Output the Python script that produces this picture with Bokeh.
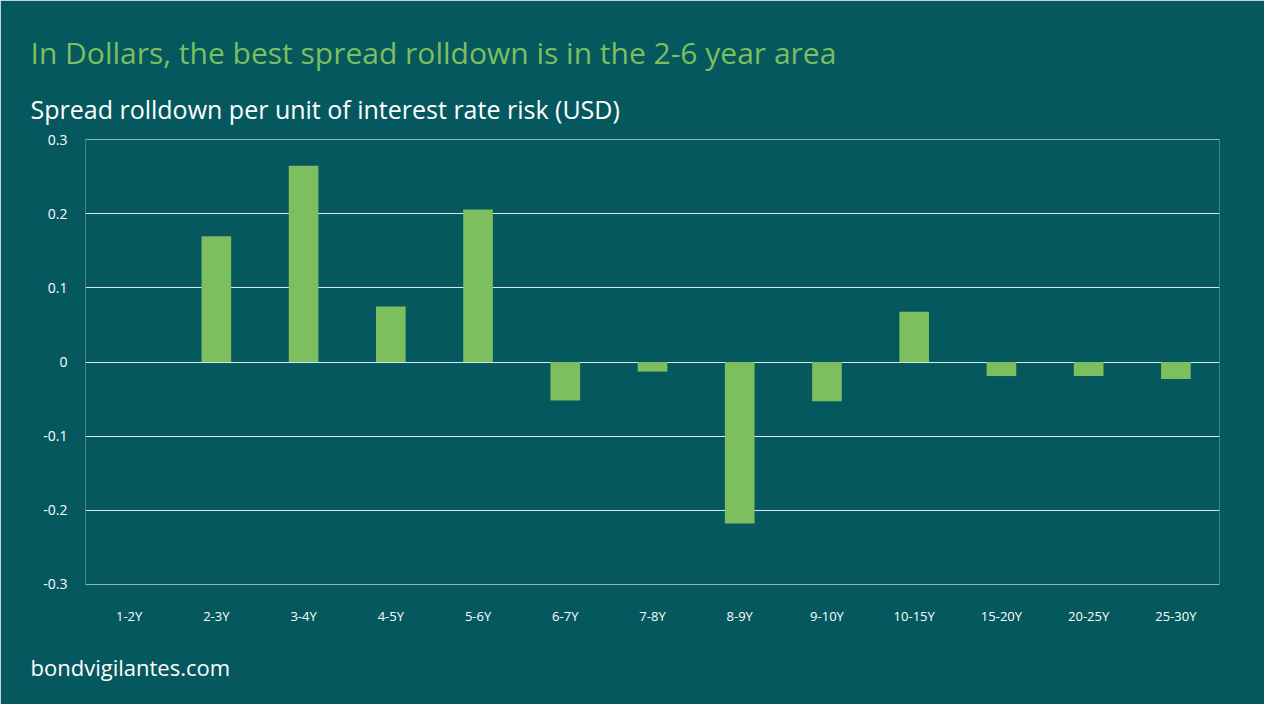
from bokeh.plotting import figure
from bokeh.models import FactorRange, FixedTicker, Title
from bokeh.embed import file_html
from bokeh.resources import INLINE

categories = ["1-2Y","2-3Y","3-4Y","4-5Y","5-6Y","6-7Y","7-8Y","8-9Y","9-10Y","10-15Y","15-20Y","20-25Y","25-30Y"]
values = [0.0, 0.170, 0.265, 0.075, 0.206, -0.052, -0.013, -0.218, -0.053, 0.068, -0.019, -0.019, -0.023]
yticks = [-0.3, -0.2, -0.1, 0.0, 0.1, 0.2, 0.3]
ylabels = ["-0.3", "-0.2", "-0.1", "0", "0.1", "0.2", "0.3"]

BG = "#04585E"
GREEN = "#7DBE5F"
FONT = "Open Sans"

p = figure(x_range=FactorRange(*categories), y_range=(-0.3005, 0.3005), width=1264, height=704,
           output_backend="svg", toolbar_location=None,
           min_border_left=85, min_border_right=45, min_border_top=139, min_border_bottom=116,
           background_fill_color=BG, border_fill_color=BG)
p.outline_line_alpha = 0
p.outline_line_color = None

p.vbar(x=categories, top=values, width=0.34, color=GREEN, line_color=None)

p.xgrid.grid_line_color = None
p.ygrid.grid_line_color = "#D8E8E8"
p.ygrid.grid_line_width = 1
p.yaxis.ticker = FixedTicker(ticks=yticks)
p.yaxis.major_label_overrides = {t: l for t, l in zip(yticks, ylabels)}
for ax in (p.xaxis, p.yaxis):
    ax.axis_line_color = None
    ax.major_tick_line_color = None
    ax.minor_tick_line_color = None
    ax.major_label_text_color = "white"
    ax.major_label_text_font = FONT
p.yaxis.major_label_text_font_size = "14px"
p.xaxis.major_label_text_font_size = "13px"
p.xaxis.major_label_standoff = 16
p.yaxis.major_label_standoff = 12

p.add_layout(Title(text="Spread rolldown per unit of interest rate risk (USD)", text_font_size="25px",
                   text_color="white", text_font=FONT, text_font_style="normal",
                   align="left", offset=-55, standoff=28), "above")
p.add_layout(Title(text="In Dollars, the best spread rolldown is in the 2-6 year area", text_font_size="30px",
                   text_color=GREEN, text_font=FONT, text_font_style="normal",
                   align="left", offset=-55, standoff=6), "above")
p.add_layout(Title(text="bondvigilantes.com", text_font_size="22px",
                   text_color="white", text_font=FONT, text_font_style="normal",
                   align="left", offset=-55, standoff=45), "below")

open("out.html", "w").write(file_html(p, INLINE))
